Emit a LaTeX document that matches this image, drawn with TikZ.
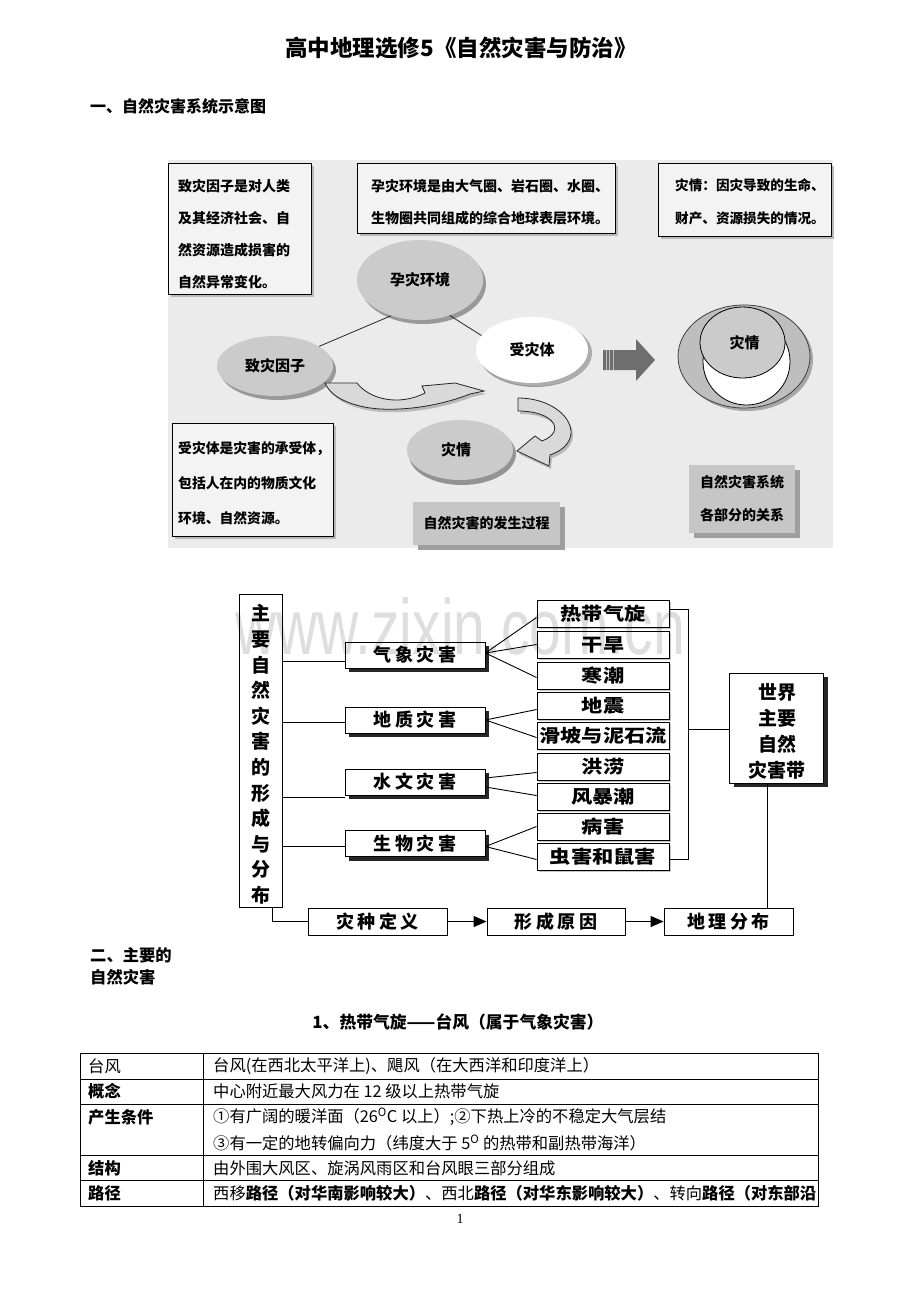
\documentclass[tikz,border=0pt]{standalone}
\usepackage{fontspec}
\usepackage{graphicx}
\setmainfont{Liberation Serif}
\newfontfamily\cjk{Noto Sans CJK SC}
\newfontfamily\cjksp{Noto Sans CJK SC}[LetterSpace=20]
\newfontfamily\wmfont{Liberation Sans}
\usetikzlibrary{shapes.geometric,arrows.meta,shadows}
\newcommand\fsz[2]{\fontsize{#1}{#2}\selectfont}
\newcommand\hstr[1]{\scalebox{1.18}[1]{#1}}
\definecolor{panel}{HTML}{EBEBEB}
\definecolor{boxfill}{HTML}{F3F3F3}
\definecolor{ellgray}{HTML}{CBCBCB}
\definecolor{biggray}{HTML}{BEBEBE}
\definecolor{lblgray}{HTML}{C6C6C6}
\definecolor{arrgray}{HTML}{D9D9D9}
\definecolor{darrow}{HTML}{6E6E6E}
\tikzset{
  tbox/.style={rectangle, draw=black, line width=0.9pt, fill=boxfill, inner sep=0pt,
    drop shadow={shadow xshift=3pt, shadow yshift=-3pt, fill=gray!55, opacity=1}},
  dtext/.style={inner sep=0pt, align=left, font=\cjk\bfseries\fsz{14}{32}},
  ell/.style={ellipse, inner sep=0pt, fill=ellgray, font=\cjk\bfseries\fsz{15}{15},
    drop shadow={shadow xshift=3pt, shadow yshift=-4pt, fill=gray!80, opacity=1}},
  gbox/.style={rectangle, inner sep=0pt, fill=lblgray, align=center,
    font=\cjk\bfseries\fsz{14}{33},
    drop shadow={shadow xshift=5pt, shadow yshift=-5pt, fill=gray!75, opacity=1}},
  conn/.style={line width=0.8pt, draw=black!85},
  curvarr/.style={fill=arrgray, draw=black!85, line width=0.8pt},
  mbox/.style={rectangle, draw=black, line width=0.9pt, fill=white, inner sep=0pt},
  mtext/.style={inner sep=0pt, align=center, font=\cjk\bfseries\fsz{19}{25.6}},
  lbox/.style={rectangle, draw=black, line width=0.9pt, fill=white, inner sep=0pt,
    minimum width=140pt, minimum height=26pt, font=\cjksp\bfseries\fsz{18}{18},
    drop shadow={shadow xshift=4pt, shadow yshift=-4pt, fill=black!85, opacity=1}},
  rbox/.style={rectangle, draw=black, line width=0.9pt, fill=white, inner sep=0pt,
    minimum width=132pt, minimum height=27pt, font=\cjk\bfseries\fsz{18}{18},
    drop shadow={shadow xshift=2pt, shadow yshift=-2pt, fill=gray!45, opacity=1}},
  bbox/.style={rectangle, draw=black, line width=0.9pt, fill=white, inner sep=0pt,
    minimum height=27pt, font=\cjksp\bfseries\fsz{18}{18}},
  wbox/.style={rectangle, draw=black, line width=0.9pt, fill=white, inner sep=0pt,
    drop shadow={shadow xshift=5pt, shadow yshift=-4pt, fill=black!85, opacity=1}},
  wtext/.style={inner sep=0pt, align=center, font=\cjk\bfseries\fsz{19}{26}},
  ln/.style={line width=0.9pt, draw=black},
  arr/.style={line width=0.9pt, draw=black, -{Triangle[length=13pt,width=11pt]}},
  head/.style={inner sep=0pt, font=\cjk\bfseries\fsz{16.3}{22}, align=left},
  tcell/.style={inner sep=0pt, anchor=west, font=\cjk\fsz{16.3}{16.3}},
  tcellb/.style={inner sep=0pt, anchor=west, font=\cjk\bfseries\fsz{16.3}{16.3}},
}
\begin{document}
\begin{tikzpicture}[x=1pt,y=-1pt]
\useasboundingbox[fill=white] (0,0) rectangle (920,1302);

% ---------- page headings ----------
\node[inner sep=0pt, font=\cjk\bfseries\fsz{22.5}{22.5}] (title) at (461,48) {高中地理选修5《自然灾害与防治》};
\node[head, anchor=west, font=\cjk\bfseries\fsz{16}{16}] (sec1) at (90,106) {一、自然灾害系统示意图};

% ---------- diagram 1 ----------
\fill[panel] (168,160) rectangle (833,548);

\node[tbox, minimum width=143pt, minimum height=131pt] (b1) at (239.5,228.5) {};
\node[tbox, minimum width=258pt, minimum height=70pt] (b2) at (486,198) {};
\node[tbox, minimum width=173pt, minimum height=73pt] (b3) at (744.5,199.5) {};
\node[tbox, minimum width=161pt, minimum height=113pt] (b4) at (252.5,479.5) {};

\node[dtext, anchor=north west] (t1) at (178,179) {致灾因子是对人类\\及其经济社会、自\\然资源造成损害的\\自然异常变化。};
\node[dtext, anchor=north west] (t2) at (371,179) {孕灾环境是由大气圈、岩石圈、水圈、\\生物圈共同组成的综合地球表层环境。};
\node[dtext, anchor=north west, font=\cjk\bfseries\fsz{13.6}{33}] (t3) at (675,178) {灾情：因灾导致的生命、\\财产、资源损失的情况。};
\node[dtext, anchor=north west, font=\cjk\bfseries\fsz{13.8}{35}] (t4) at (178,441) {受灾体是灾害的承受体，\\包括人在内的物质文化\\环境、自然资源。};

% ellipses of the process
\node[ell, minimum width=126pt, minimum height=80pt] (yun) at (420,280) {\raisebox{-2pt}{孕灾环境}};
\node[ell, minimum width=116pt, minimum height=60pt] (zhi) at (275,366) {\raisebox{-6pt}{致灾因子}};
\node[ell, fill=white, minimum width=112pt, minimum height=66pt,
  drop shadow={shadow xshift=4pt, shadow yshift=-3pt, fill=gray!65, opacity=1}] (shou) at (532,350) {\raisebox{-3pt}{受灾体}};
\node[ell, minimum width=106pt, minimum height=60pt,
  drop shadow={shadow xshift=2pt, shadow yshift=-5pt, fill=gray!85, opacity=1}] (zq) at (460,450) {\raisebox{-4pt}{灾情\hspace{8pt}}};

\draw[conn] (zhi.24) -- (yun.231);
\draw[conn] (yun.-50) -- (shou.164);

% curved block arrows
\begin{scope}[shift={(2,3)}]
\fill[gray!55] (325,383) -- (357,383) .. controls (370,400) and (400,406) .. (425,393) -- (422,386) -- (455,383) -- (484,391) -- (470,394) .. controls (440,406) and (400,412) .. (370,408) .. controls (345,404) and (330,395) .. (325,383) -- cycle;
\fill[gray!55] (518,398) .. controls (566,398) and (592,440) .. (550,455) -- (549,466) -- (517,451) -- (535,436) -- (542,441) .. controls (566,432) and (555,411) .. (518,411) -- cycle;
\end{scope}
\filldraw[curvarr] (325,383) -- (357,383) .. controls (370,400) and (400,406) .. (425,393) -- (422,386) -- (455,383) -- (484,391) -- (470,394) .. controls (440,406) and (400,412) .. (370,408) .. controls (345,404) and (330,395) .. (325,383) -- cycle;
\filldraw[curvarr] (518,398) .. controls (566,398) and (592,440) .. (550,455) -- (549,466) -- (517,451) -- (535,436) -- (542,441) .. controls (566,432) and (555,411) .. (518,411) -- cycle;

% straight block arrow
\fill[darrow] (603,350) -- (636,350) -- (636,339) -- (655,360) -- (636,381) -- (636,370) -- (603,370) -- cycle;
\draw[white!55!darrow, line width=1pt] (606,350) -- (606,370);
\draw[white!55!darrow, line width=1pt] (609.5,350) -- (609.5,370);
\draw[white!55!darrow, line width=0.8pt] (613,350) -- (613,370);

% relation circles
\node[ellipse, inner sep=0pt, minimum width=132pt, minimum height=103pt, fill=biggray, draw=black!75, line width=0.8pt,
  drop shadow={shadow xshift=3pt, shadow yshift=-3pt, fill=gray!70, opacity=1}] (big) at (744,356.5) {};
\node[ellipse, inner sep=0pt, minimum width=87pt, minimum height=87pt, fill=white, draw=black, line width=0.8pt] (wc) at (746.5,361.5) {};
\node[ellipse, inner sep=0pt, minimum width=85pt, minimum height=71pt, fill=ellgray, draw=black, line width=0.8pt,
  font=\cjk\bfseries\fsz{15}{15}] (gc) at (742.5,342.5) {\raisebox{-7pt}{\hspace{4pt}灾情}};

% grey labels
\node[gbox, minimum width=147pt, minimum height=43pt] (proc) at (486.5,523.5) {自然灾害的发生过程};
\node[gbox, minimum width=106pt, minimum height=68pt] (rel) at (742,499) {自然灾害系统\\各部分的关系};

% ---------- diagram 2 ----------
\node[mbox, minimum width=43pt, minimum height=313pt] (main) at (260.5,750.5) {};
\node[mtext] (maintxt) at (260.5,754.5) {主\\要\\自\\然\\灾\\害\\的\\形\\成\\与\\分\\布};

\node[lbox] (qx) at (415,655) {气象灾害};
\node[lbox] (dz) at (415,720) {地质灾害};
\node[lbox] (sw) at (415,782) {水文灾害};
\node[lbox] (sb) at (415,843.5) {生物灾害};

\node[rbox] (r1) at (603,613.5) {\hstr{热带气旋}};
\node[rbox] (r2) at (603,644.5) {\hstr{干旱}};
\node[rbox] (r3) at (603,675.5) {\hstr{寒潮}};
\node[rbox] (r4) at (603,705.5) {\hstr{地震}};
\node[rbox] (r5) at (603,735.5) {\hstr{滑坡与泥石流}};
\node[rbox] (r6) at (603,766.5) {\hstr{洪涝}};
\node[rbox] (r7) at (603,796.5) {\hstr{风暴潮}};
\node[rbox] (r8) at (603,826.5) {\hstr{病害}};
\node[rbox] (r9) at (603,856.5) {\hstr{虫害和鼠害}};

\node[wbox, minimum width=94pt, minimum height=110pt] (world) at (776,728) {};
\node[wtext] (worldtxt) at (777,731.5) {世界\\主要\\自然\\灾害带};

\node[bbox, minimum width=139pt] (zh) at (377.5,921.5) {灾种定义};
\node[bbox, minimum width=138pt] (xc) at (556,921.5) {形成原因};
\node[bbox, minimum width=129pt] (dl) at (728.5,921.5) {地理分布};

% connectors main -> categories
\coordinate (qxin) at ([yshift=-6pt]qx.west);
\coordinate (dzin) at ([yshift=-2pt]dz.west);
\coordinate (swin) at ([yshift=-15pt]sw.west);
\coordinate (sbin) at ([yshift=-3pt]sb.west);
\draw[ln] (main.east |- qxin) -- (qxin);
\draw[ln] (main.east |- dzin) -- (dzin);
\draw[ln] (main.east |- swin) -- (swin);
\draw[ln] (main.east |- sbin) -- (sbin);

% fans
\draw[ln] ([yshift=2pt]qx.east) -- ([yshift=-4pt]r1.west);
\draw[ln] ([yshift=2pt]qx.east) -- (r2.west);
\draw[ln] ([yshift=2pt]qx.east) -- ([yshift=-2pt]r3.west);
\draw[ln] (dz.east) -- ([yshift=-4pt]r4.west);
\draw[ln] (dz.east) -- ([yshift=-2pt]r5.west);
\draw[ln] ([yshift=4pt]sw.east) -- ([yshift=-6pt]r6.west);
\draw[ln] ([yshift=-5pt]sw.east) -- ([yshift=1pt]r7.west);
\draw[ln] ([yshift=-3pt]sb.east) -- (r8.west);
\draw[ln] ([yshift=-3pt]sb.east) -- ([yshift=-3pt]r9.west);

% bracket to world
\coordinate (bt) at (688,609);
\coordinate (bb) at (688,859);
\coordinate (bm) at (688,729);
\draw[ln] ([yshift=4.5pt]r1.east) -- (bt) -- (bb) -- ([yshift=-2.5pt]r9.east);
\draw[ln] (bm) -- (world.west |- bm);

% bottom chain
\coordinate (mbot) at ([xshift=12pt]main.south);
\coordinate (wbot) at ([xshift=-9pt]world.south);
\draw[ln] (mbot) |- (zh.west);
\draw[arr] (zh.east) -- (xc.west);
\draw[arr] (xc.east) -- (dl.west);
\draw[ln] (wbot) -- (wbot |- dl.north);

% watermark
\begin{scope}[blend mode=multiply]
\node[anchor=base west, inner sep=0pt, text=black!13, font=\wmfont\fsz{57}{57}] (wm) at (235,654) {\scalebox{1}[1.38]{www.zixin.com.cn}};
\end{scope}

% ---------- section 2 ----------
\node[head, anchor=north west] (sec2) at (90,947) {二、主要的\\自然灾害};
\node[inner sep=0pt, font=\cjk\bfseries\fsz{16.8}{16.8}] (sub1) at (458,1022) {1、热带气旋——台风（属于气象灾害）};

% table
\coordinate (tl) at (80,1053);
\coordinate (br) at (818,1206);
\draw[line width=0.8pt] (tl) rectangle (br);
\draw[line width=0.8pt] (203,1053) -- (203,1206);
\draw[line width=0.8pt] (80,1079) -- (818,1079);
\draw[line width=0.8pt] (80,1104) -- (818,1104);
\draw[line width=0.8pt] (80,1155) -- (818,1155);
\draw[line width=0.8pt] (80,1180) -- (818,1180);

\node[tcell] (c1a) at (88,1066) {台风};
\node[tcell] (c1b) at (213,1066) {台风(在西北太平洋上)、飓风（在大西洋和印度洋上）};
\node[tcellb] (c2a) at (88,1091.5) {概念};
\node[tcell] (c2b) at (213,1091.5) {中心附近最大风力在 12 级以上热带气旋};
\node[tcellb] (c3a) at (88,1117) {产生条件};
\node[tcell] (c3b) at (213,1117) {①有广阔的暖洋面（26\textsuperscript{O}C 以上）;②下热上冷的不稳定大气层结};
\node[tcell] (c3c) at (213,1143) {③有一定的地转偏向力（纬度大于 5\textsuperscript{O} 的热带和副热带海洋）};
\node[tcellb] (c4a) at (88,1168) {结构};
\node[tcell] (c4b) at (213,1168) {由外围大风区、旋涡风雨区和台风眼三部分组成};
\node[tcellb] (c5a) at (88,1193) {路径};
\node[tcell] (c5b) at (213,1193) {西移{\bfseries 路径（对华南影响较大）}、西北{\bfseries 路径（对华东影响较大）}、转向{\bfseries 路径（对东部沿}};

\node[inner sep=0pt, font=\fsz{14}{14}] (pg) at (460,1219) {1};
\end{tikzpicture}
\end{document}
